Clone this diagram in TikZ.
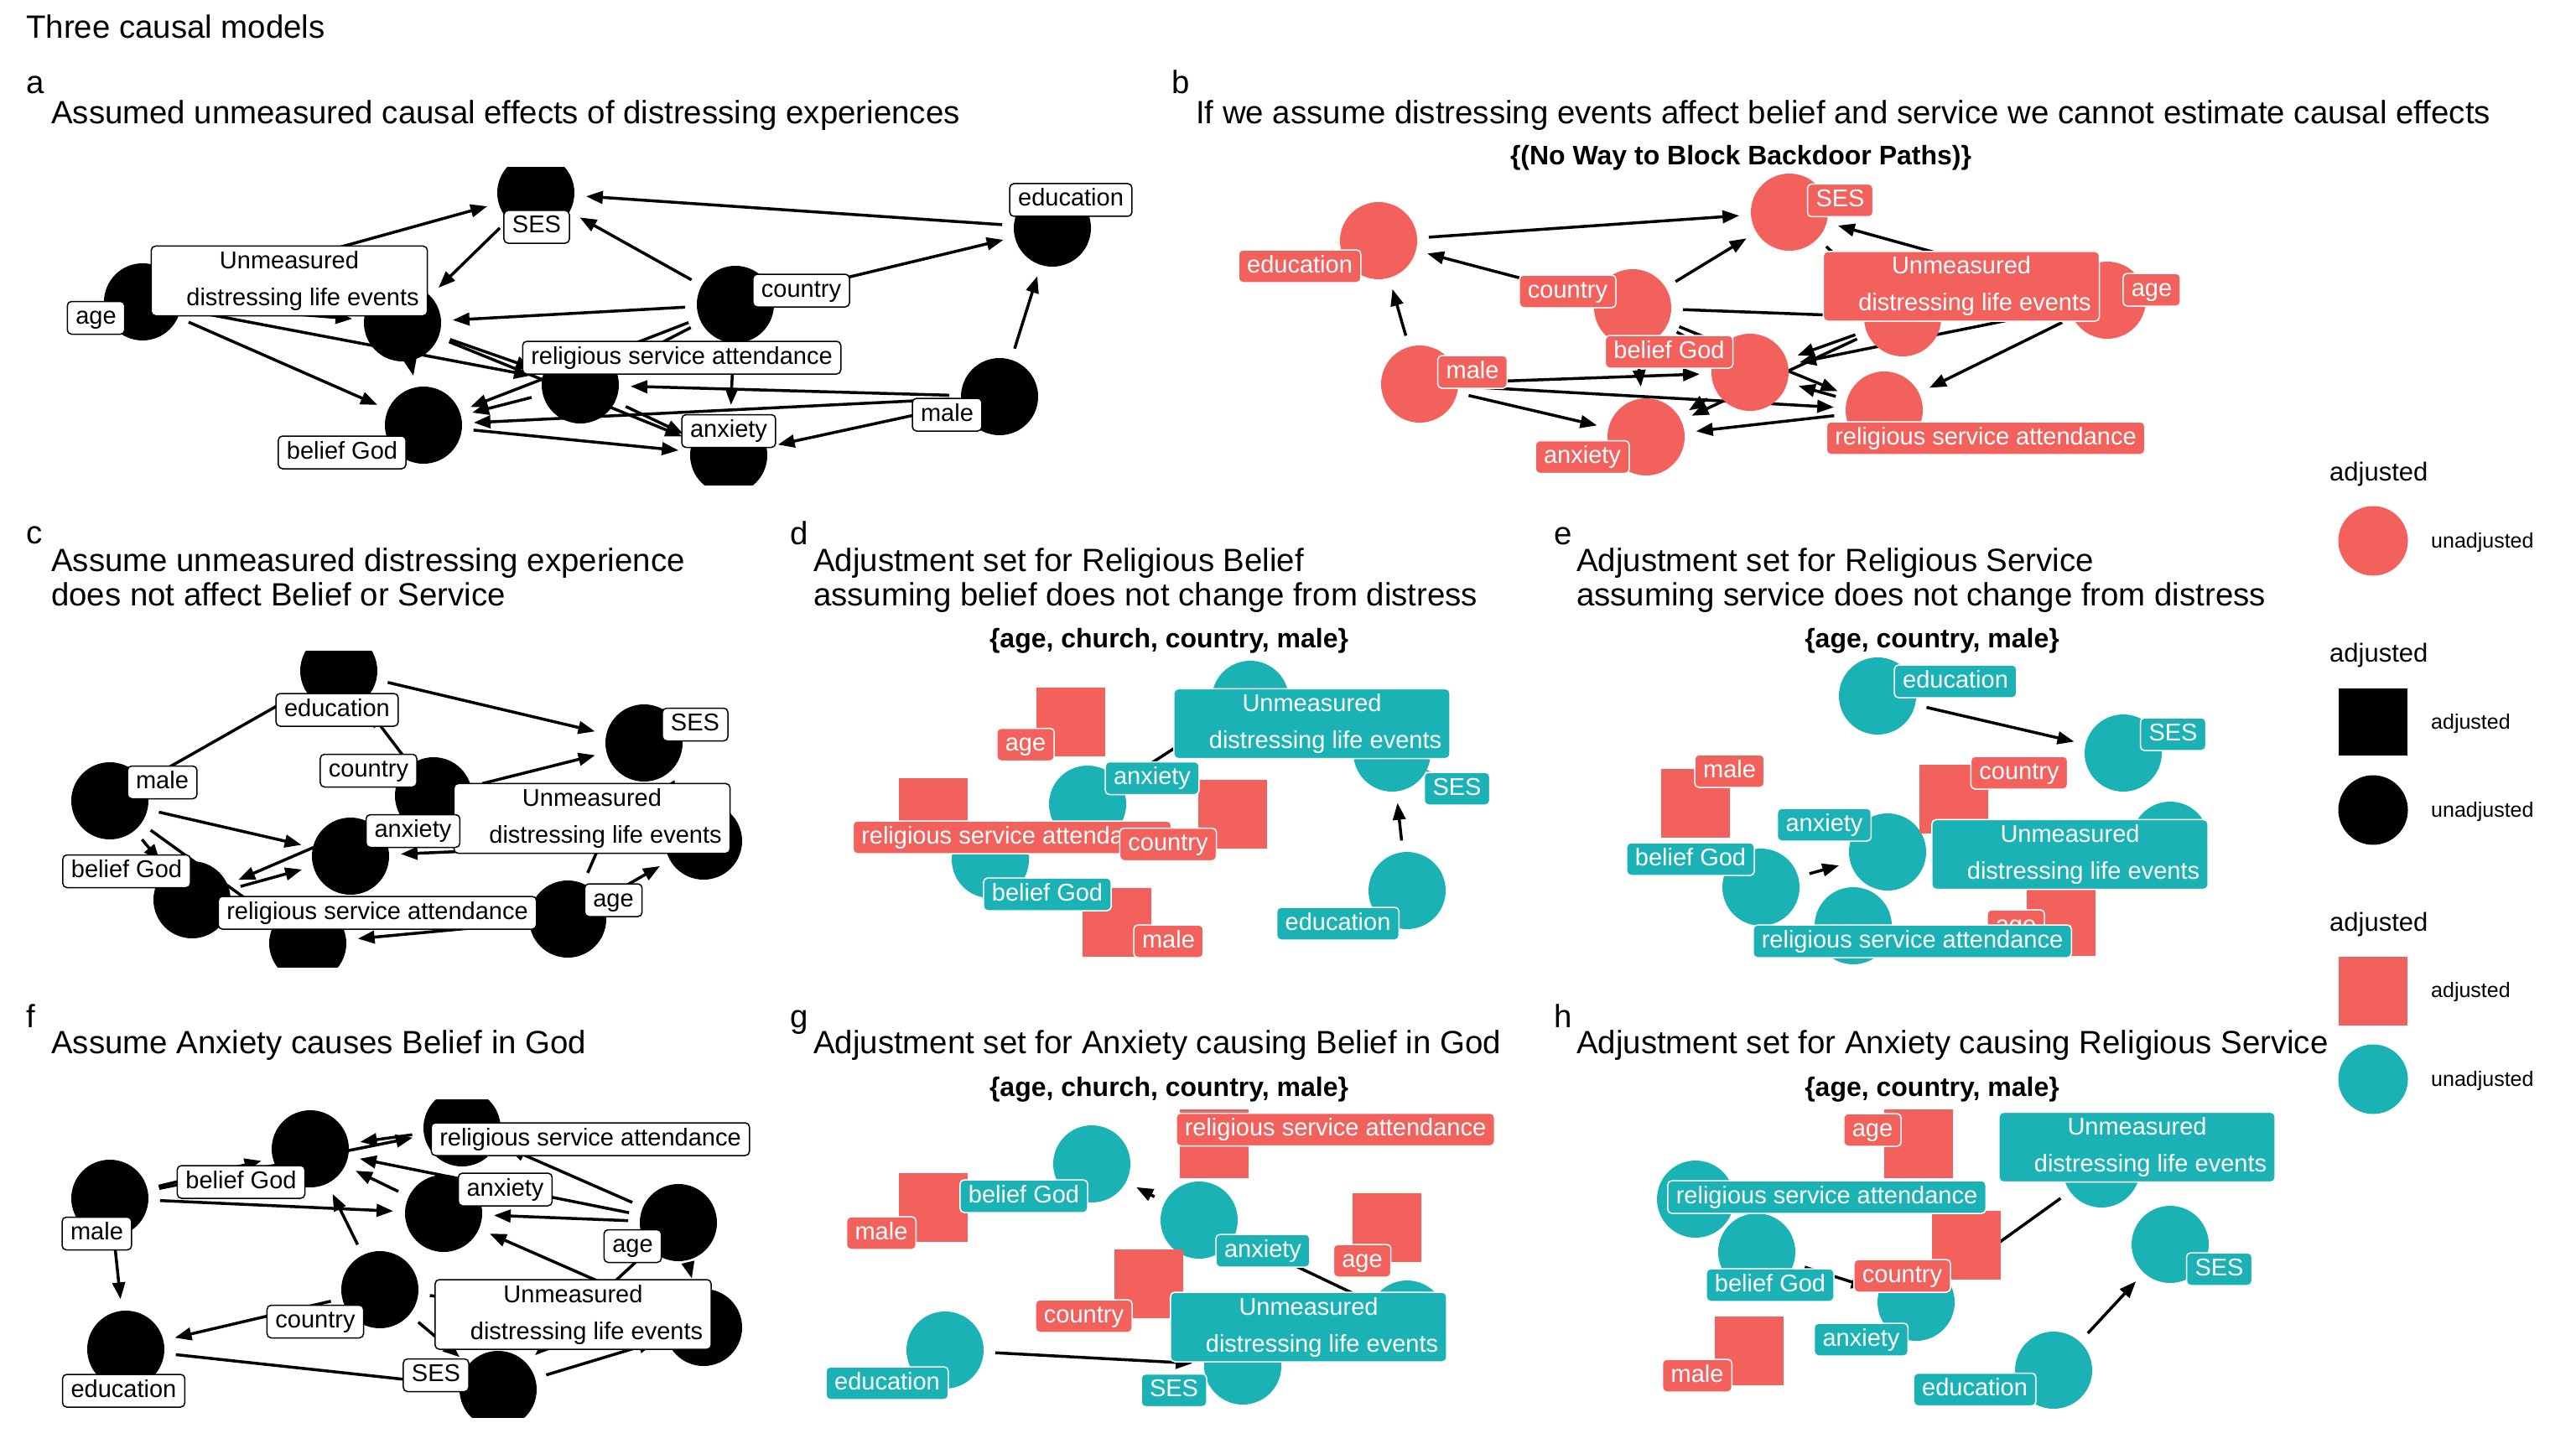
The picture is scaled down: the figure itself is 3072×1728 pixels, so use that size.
\documentclass[tikz,border=0pt]{standalone}
\usepackage{fontspec}
\setmainfont{Liberation Sans}
\usetikzlibrary{arrows.meta}
\definecolor{adjred}{RGB}{242,97,92}
\definecolor{unteal}{RGB}{27,178,181}
\tikzset{
  dagedge/.style={line width=3.5pt, -{Triangle[length=20pt,width=15pt]}, shorten <=60pt, shorten >=60pt},
  bnode/.style={circle, fill=black, minimum size=92pt, inner sep=0pt},
  rnode/.style={circle, fill=adjred, minimum size=92pt, inner sep=0pt},
  tnode/.style={circle, fill=unteal, minimum size=92pt, inner sep=0pt},
  rsq/.style={rectangle, fill=adjred, minimum size=82pt, inner sep=0pt},
  labbase/.style={rounded corners=5pt, inner xsep=10pt, inner ysep=6pt, line width=1.5pt, yshift=-3pt, font=\fontsize{29}{44}\selectfont},
  oneline/.style={text height=21pt, text depth=6pt},
  twoline/.style={align=center},
  wlab/.style={labbase, draw=black, fill=white},
  rlab/.style={labbase, draw=white, fill=adjred, text=white},
  tlab/.style={labbase, draw=white, fill=unteal, text=white},
  tagtext/.style={anchor=base west, inner sep=0pt, font=\fontsize{38.4}{42}\selectfont},
  subtext/.style={anchor=base, inner sep=0pt, font=\fontsize{32}{36}\selectfont\bfseries},
  legtitle/.style={anchor=base west, inner sep=0pt, font=\fontsize{31}{36}\selectfont},
  legtext/.style={anchor=west, inner sep=0pt, font=\fontsize{25}{30}\selectfont}
}
\newcommand{\unmtext}{Unmeasured\\\hspace*{32pt}distressing life events}

\begin{document}
\begin{tikzpicture}[x=1pt, y=-1pt]
\fill[white] (0,0) rectangle (3072,1728);
\useasboundingbox (0,0) rectangle (3072,1728);

\node[tagtext] (maintitle) at (31,46) {Three causal models};

% panel a
\node[tagtext] (atag) at (31,112) {a};
\node[tagtext] (atitle) at (61,148) {Assumed unmeasured causal effects of distressing experiences};
\begin{scope}
\clip (0,200) rectangle (1390,578);
\coordinate (aSES) at (639,230);
\coordinate (aedu) at (1255,272);
\coordinate (aage) at (170,360);
\coordinate (aunm) at (480,385);
\coordinate (acty) at (877,363);
\coordinate (arel) at (692,459);
\coordinate (abel) at (505,507);
\coordinate (aanx) at (869,543);
\coordinate (amale) at (1192,473);
\draw[dagedge] (aage) -- (aSES);
\draw[dagedge] (aedu) -- (aSES);
\draw[dagedge] (aSES) -- (aunm);
\draw[dagedge] (acty) -- (aSES);
\draw[dagedge] (acty) -- (aedu);
\draw[dagedge] (amale) -- (aedu);
\draw[dagedge] (acty) -- (aunm);
\draw[dagedge] (aage) -- (aunm);
\draw[dagedge] (aage) -- (abel);
\draw[dagedge] (aage) -- (arel);
\draw[dagedge] (aunm) -- (abel);
\draw[dagedge] (aunm) -- (arel);
\draw[dagedge] (aunm) -- (aanx);
\draw[dagedge] (acty) -- (abel);
\draw[dagedge] (acty) -- (arel);
\draw[dagedge] (acty) -- (aanx);
\draw[dagedge] (amale) -- (arel);
\draw[dagedge] (amale) -- (abel);
\draw[dagedge] (amale) -- (aanx);
\draw[dagedge] (abel) -- (aanx);
\draw[dagedge] (arel) -- (abel);
\draw[dagedge] (arel) -- (aanx);
\node[bnode] (aSESc) at (aSES) {};
\node[bnode] (aeduc) at (aedu) {};
\node[bnode] (aagec) at (aage) {};
\node[bnode] (aunmc) at (aunm) {};
\node[bnode] (actyc) at (acty) {};
\node[bnode] (arelc) at (arel) {};
\node[bnode] (abelc) at (abel) {};
\node[bnode] (aanxc) at (aanx) {};
\node[bnode] (amalec) at (amale) {};
\node[wlab, oneline] (aSESl) at (640,267.5) {SES};
\node[wlab, oneline] (aedul) at (1277,235.5) {education};
\node[wlab, oneline] (aagel) at (114.5,376) {age};
\node[wlab, twoline] (aunml) at (345,332) {\unmtext};
\node[wlab, oneline] (actyl) at (955.5,343.5) {country};
\node[wlab, oneline] (arell) at (813,423.5) {religious service attendance};
\node[wlab, oneline] (abell) at (408,536.5) {belief God};
\node[wlab, oneline] (aanxl) at (869,511) {anxiety};
\node[wlab, oneline] (amalel) at (1129.5,491.5) {male};
\end{scope}

% panel b
\node[tagtext] (btag) at (1397,112) {b};
\node[tagtext] (btitle) at (1426,148) {If we assume distressing events affect belief and service we cannot estimate causal effects};
\node[subtext] (bsub) at (2076,197) {\{(No Way to Block Backdoor Paths)\}};
\coordinate (bSES) at (2134,253);
\coordinate (bedu) at (1644,287);
\coordinate (bcty) at (1947,367);
\coordinate (bunm) at (2269,379);
\coordinate (bage) at (2513,358);
\coordinate (bbel) at (2087,444);
\coordinate (bmale) at (1693,458);
\coordinate (brel) at (2247,489);
\coordinate (banx) at (1963,521);
\draw[dagedge] (bedu) -- (bSES);
\draw[dagedge] (bcty) -- (bedu);
\draw[dagedge] (bmale) -- (bedu);
\draw[dagedge] (bcty) -- (bSES);
\draw[dagedge] (bage) -- (bSES);
\draw[dagedge] (bcty) -- (bunm);
\draw[dagedge] (bage) -- (bunm);
\draw[dagedge] (bSES) -- (bunm);
\draw[dagedge] (bcty) -- (bbel);
\draw[dagedge] (bcty) -- (brel);
\draw[dagedge] (bcty) -- (banx);
\draw[dagedge] (bmale) -- (bbel);
\draw[dagedge] (bmale) -- (brel);
\draw[dagedge] (bmale) -- (banx);
\draw[dagedge] (bunm) -- (bbel);
\draw[dagedge] (bunm) -- (banx);
\draw[dagedge] (bage) -- (bbel);
\draw[dagedge] (bage) -- (brel);
\draw[dagedge] (brel) -- (bbel);
\draw[dagedge] (bbel) -- (banx);
\draw[dagedge] (brel) -- (banx);
\node[rnode] (bSESc) at (bSES) {};
\node[rnode] (beduc) at (bedu) {};
\node[rnode] (bctyc) at (bcty) {};
\node[rnode] (bunmc) at (bunm) {};
\node[rnode] (bagec) at (bage) {};
\node[rnode] (bbelc) at (bbel) {};
\node[rnode] (bmalec) at (bmale) {};
\node[rnode] (brelc) at (brel) {};
\node[rnode] (banxc) at (banx) {};
\node[rlab, oneline] (bSESl) at (2194.5,236) {SES};
\node[rlab, oneline] (bedul) at (1550,314.5) {education};
\node[rlab, oneline] (bctyl) at (1869.5,344.5) {country};
\node[rlab, twoline] (bunml) at (2339,338.5) {\unmtext};
\node[rlab, oneline] (bagel) at (2566,342.5) {age};
\node[rlab, oneline] (bbell) at (1990.5,416.5) {belief God};
\node[rlab, oneline] (bmalel) at (1756,440.5) {male};
\node[rlab, oneline] (brell) at (2368,519.5) {religious service attendance};
\node[rlab, oneline] (banxl) at (1887,542) {anxiety};

% panel c
\node[tagtext] (ctag) at (31,648) {c};
\node[tagtext] (ctitle) at (61,681) {Assume unmeasured distressing experience};
\node[tagtext] (ctitleb) at (61,722) {does not affect Belief or Service};
\begin{scope}
\clip (0,776) rectangle (930,1153);
\coordinate (cedu) at (404,800);
\coordinate (cSES) at (768,886);
\coordinate (cmale) at (131,955);
\coordinate (ccty) at (517,949);
\coordinate (cunm) at (839,1003);
\coordinate (canx) at (418,1021);
\coordinate (cbel) at (229,1073);
\coordinate (cage) at (677,1096);
\coordinate (crel) at (367,1125);
\draw[dagedge] (cedu) -- (cSES);
\draw[dagedge] (cmale) -- (cedu);
\draw[dagedge] (ccty) -- (cedu);
\draw[dagedge] (ccty) -- (cSES);
\draw[dagedge] (cmale) -- (canx);
\draw[dagedge] (cmale) -- (cbel);
\draw[dagedge] (cmale) -- (crel);
\draw[dagedge] (ccty) -- (cbel);
\draw[dagedge] (cbel) -- (canx);
\draw[dagedge] (cunm) -- (canx);
\draw[dagedge] (cage) -- (cSES);
\draw[dagedge] (cage) -- (cunm);
\draw[dagedge] (cage) -- (crel);
\draw[dagedge] (cSES) -- (cunm);
\draw[dagedge] (ccty) -- (cunm);
\node[bnode] (ceduc) at (cedu) {};
\node[bnode] (cSESc) at (cSES) {};
\node[bnode] (cmalec) at (cmale) {};
\node[bnode] (cctyc) at (ccty) {};
\node[bnode] (cunmc) at (cunm) {};
\node[bnode] (canxc) at (canx) {};
\node[bnode] (cbelc) at (cbel) {};
\node[bnode] (cagec) at (cage) {};
\node[bnode] (crelc) at (crel) {};
\node[wlab, oneline] (cedul) at (402,843.5) {education};
\node[wlab, oneline] (cSESl) at (829,861) {SES};
\node[wlab, oneline] (cmalel) at (193.5,930) {male};
\node[wlab, oneline] (cctyl) at (439.5,916) {country};
\node[wlab, twoline] (cunml) at (706,973) {\unmtext};
\node[wlab, oneline] (canxl) at (492.5,988) {anxiety};
\node[wlab, oneline] (cbell) at (151,1036) {belief God};
\node[wlab, oneline] (cagel) at (731.5,1070.5) {age};
\node[wlab, oneline] (crell) at (450,1085.5) {religious service attendance};
\end{scope}

% panel d
\node[tagtext] (dtag) at (942,649) {d};
\node[tagtext] (dtitle) at (970,681) {Adjustment set for Religious Belief};
\node[tagtext] (dtitleb) at (970,722) {assuming belief does not change from distress};
\node[subtext] (dsub) at (1394,772) {\{age, church, country, male\}};
\coordinate (dunm) at (1491,834);
\coordinate (dSES) at (1660,898);
\coordinate (danx) at (1297,959);
\coordinate (dbel) at (1181,1025);
\coordinate (dedu) at (1678,1062);
\coordinate (dage) at (1276.5,861);
\coordinate (drel) at (1112.5,969);
\coordinate (dcty) at (1469.5,971);
\coordinate (dmale) at (1331.5,1100);
\draw[dagedge] (dunm) -- (danx);
\draw[dagedge] (dedu) -- (dSES);
\node[tnode] (dunmc) at (dunm) {};
\node[tnode] (dSESc) at (dSES) {};
\node[tnode] (danxc) at (danx) {};
\node[tnode] (dbelc) at (dbel) {};
\node[tnode] (deduc) at (dedu) {};
\node[rsq] (dagec) at (dage) {};
\node[rsq] (drelc) at (drel) {};
\node[rsq] (dctyc) at (dcty) {};
\node[rsq] (dmalec) at (dmale) {};
\coordinate (dSESlab) at (1737.5,937.5);
\draw[gray, line width=2pt, shorten >=30pt] (dSESc) -- (dSESlab);
\node[tlab, twoline] (dunml) at (1564.5,860) {\unmtext};
\node[rlab, oneline] (dagel) at (1223,885) {age};
\node[tlab, oneline] (dSESl) at (dSESlab) {SES};
\node[tlab, oneline] (danxl) at (1374,925) {anxiety};
\node[rlab, oneline] (drell) at (1207,995.5) {religious service attendance};
\node[rlab, oneline] (dctyl) at (1393,1004) {country};
\node[tlab, oneline] (dbell) at (1249,1063.5) {belief God};
\node[rlab, oneline] (dmalel) at (1393.5,1119.5) {male};
\node[tlab, oneline] (dedul) at (1595.5,1098.5) {education};

% panel e
\node[tagtext] (etag) at (1853,649) {e};
\node[tagtext] (etitle) at (1880,681) {Adjustment set for Religious Service};
\node[tagtext] (etitleb) at (1880,722) {assuming service does not change from distress};
\node[subtext] (esub) at (2304,772) {\{age, country, male\}};
\coordinate (eedu) at (2239,830);
\coordinate (eSES) at (2532,898);
\coordinate (eanx) at (2251,1016);
\coordinate (ebel) at (2100,1058);
\coordinate (eunm) at (2588,1002);
\coordinate (erel) at (2210,1104);
\coordinate (emale) at (2021.5,958);
\coordinate (ecty) at (2330,952.5);
\coordinate (eage) at (2458,1099);
\draw[dagedge] (eedu) -- (eSES);
\draw[dagedge] (ebel) -- (eanx);
\node[tnode] (eeduc) at (eedu) {};
\node[tnode] (eSESc) at (eSES) {};
\node[tnode] (eanxc) at (eanx) {};
\node[tnode] (ebelc) at (ebel) {};
\node[tnode] (eunmc) at (eunm) {};
\node[tnode] (erelc) at (erel) {};
\node[rsq] (emalec) at (emale) {};
\node[rsq] (ectyc) at (ecty) {};
\node[rsq] (eagec) at (eage) {};
\node[tlab, oneline] (eedul) at (2332,809.5) {education};
\node[tlab, oneline] (eSESl) at (2591.5,872.5) {SES};
\node[rlab, oneline] (emalel) at (2062.5,916.5) {male};
\node[rlab, oneline] (ectyl) at (2408,918.5) {country};
\node[tlab, oneline] (eanxl) at (2175.5,980.5) {anxiety};
\node[tlab, oneline] (ebell) at (2016,1021.5) {belief God};
\node[tlab, twoline] (eunml) at (2468.5,1016) {\unmtext};
\node[rlab, oneline] (eagel) at (2404,1101.5) {age};
\node[tlab, oneline] (erell) at (2280.5,1119.5) {religious service attendance};

% panel f
\node[tagtext] (ftag) at (31,1225) {f};
\node[tagtext] (ftitle) at (61,1256) {Assume Anxiety causes Belief in God};
\begin{scope}
\clip (0,1311) rectangle (930,1690);
\coordinate (fbel) at (370,1370);
\coordinate (frel) at (551,1345);
\coordinate (fmale) at (131,1429);
\coordinate (fanx) at (529,1447);
\coordinate (fage) at (809,1458);
\coordinate (fcty) at (453,1538);
\coordinate (funm) at (839,1583);
\coordinate (fedu) at (150,1609);
\coordinate (fSES) at (594,1657);
\draw[dagedge] (fmale) -- (fbel);
\draw[dagedge] (fmale) -- (frel);
\draw[dagedge] (frel) -- (fbel);
\draw[dagedge] (fmale) -- (fanx);
\draw[dagedge] (fmale) -- (fedu);
\draw[dagedge] (fanx) -- (fbel);
\draw[dagedge] (fage) -- (fbel);
\draw[dagedge] (fage) -- (fanx);
\draw[dagedge] (fage) -- (frel);
\draw[dagedge] (fcty) -- (fbel);
\draw[dagedge] (fcty) -- (fedu);
\draw[dagedge] (fedu) -- (fSES);
\draw[dagedge] (funm) -- (fanx);
\draw[dagedge] (fage) -- (funm);
\draw[dagedge] (fage) -- (fSES);
\draw[dagedge] (fSES) -- (funm);
\draw[dagedge] (fcty) -- (fSES);
\draw[dagedge] (fcty) -- (funm);
\node[bnode] (fbelc) at (fbel) {};
\node[bnode] (frelc) at (frel) {};
\node[bnode] (fmalec) at (fmale) {};
\node[bnode] (fanxc) at (fanx) {};
\node[bnode] (fagec) at (fage) {};
\node[bnode] (fctyc) at (fcty) {};
\node[bnode] (funmc) at (funm) {};
\node[bnode] (feduc) at (fedu) {};
\node[bnode] (fSESc) at (fSES) {};
\node[wlab, oneline] (fbell) at (287.5,1406.5) {belief God};
\node[wlab, oneline] (frell) at (704,1355.5) {religious service attendance};
\node[wlab, oneline] (fmalel) at (115.5,1468) {male};
\node[wlab, oneline] (fanxl) at (602.5,1415.5) {anxiety};
\node[wlab, oneline] (fagel) at (754.5,1483) {age};
\node[wlab, oneline] (fctyl) at (376,1573) {country};
\node[wlab, twoline] (funml) at (683.5,1564.5) {\unmtext};
\node[wlab, oneline] (fedul) at (147.5,1655.5) {education};
\node[wlab, oneline] (fSESl) at (520,1637) {SES};
\end{scope}

% panel g
\node[tagtext] (gtag) at (942,1225) {g};
\node[tagtext] (gtitle) at (970,1256) {Adjustment set for Anxiety causing Belief in God};
\node[subtext] (gsub) at (1394,1307) {\{age, church, country, male\}};
\coordinate (gbel) at (1302,1388);
\coordinate (ganx) at (1430,1455);
\coordinate (gunm) at (1678,1573);
\coordinate (gedu) at (1127,1610);
\coordinate (gSES) at (1482,1629);
\coordinate (grel) at (1448,1364);
\coordinate (gmale) at (1112.5,1440);
\coordinate (gage) at (1653.5,1464);
\coordinate (gcty) at (1369.5,1531);
\draw[dagedge] (ganx) -- (gbel);
\draw[dagedge] (gunm) -- (ganx);
\draw[dagedge] (gedu) -- (gSES);
\node[tnode] (gbelc) at (gbel) {};
\node[tnode] (ganxc) at (ganx) {};
\node[tnode] (gunmc) at (gunm) {};
\node[tnode] (geduc) at (gedu) {};
\node[tnode] (gSESc) at (gSES) {};
\node[rsq] (grelc) at (grel) {};
\node[rsq] (gmalec) at (gmale) {};
\node[rsq] (gagec) at (gage) {};
\node[rsq] (gctyc) at (gcty) {};
\node[rlab, oneline] (grell) at (1592.5,1344) {religious service attendance};
\node[tlab, oneline] (gbell) at (1221,1423.5) {belief God};
\node[rlab, oneline] (gmalel) at (1051,1467.5) {male};
\node[tlab, oneline] (ganxl) at (1506,1488.5) {anxiety};
\node[rlab, oneline] (gagel) at (1624.5,1500.5) {age};
\node[rlab, oneline] (gctyl) at (1292.5,1566.5) {country};
\node[tlab, twoline] (gunml) at (1560.5,1579.5) {\unmtext};
\node[tlab, oneline] (gedul) at (1058,1646.5) {education};
\node[tlab, oneline] (gSESl) at (1400,1655) {SES};

% panel h
\node[tagtext] (htag) at (1853,1225) {h};
\node[tagtext] (htitle) at (1880,1256) {Adjustment set for Anxiety causing Religious Service};
\node[subtext] (hsub) at (2304,1307) {\{age, country, male\}};
\coordinate (hunm) at (2506,1394);
\coordinate (hrel) at (2022,1430);
\coordinate (hbel) at (2095,1493);
\coordinate (hSES) at (2588,1484);
\coordinate (hanx) at (2285,1553);
\coordinate (hedu) at (2449,1634);
\coordinate (hage) at (2287.5,1363.5);
\coordinate (hcty) at (2345,1485);
\coordinate (hmale) at (2086,1610.5);
\draw[dagedge] (hunm) -- (hanx);
\draw[dagedge] (hbel) -- (hanx);
\draw[dagedge] (hedu) -- (hSES);
\node[tnode] (hunmc) at (hunm) {};
\node[tnode] (hrelc) at (hrel) {};
\node[tnode] (hbelc) at (hbel) {};
\node[tnode] (hSESc) at (hSES) {};
\node[tnode] (hanxc) at (hanx) {};
\node[tnode] (heduc) at (hedu) {};
\node[rsq] (hagec) at (hage) {};
\node[rsq] (hctyc) at (hcty) {};
\node[rsq] (hmalec) at (hmale) {};
\node[rlab, oneline] (hagel) at (2233,1344.5) {age};
\node[tlab, twoline] (hunml) at (2548.5,1365) {\unmtext};
\node[tlab, oneline] (hrell) at (2178.5,1424.5) {religious service attendance};
\node[tlab, oneline] (hbell) at (2111,1529.5) {belief God};
\node[rlab, oneline] (hctyl) at (2268.5,1518.5) {country};
\node[tlab, oneline] (hSESl) at (2646.5,1510.5) {SES};
\node[tlab, oneline] (hanxl) at (2219.5,1594.5) {anxiety};
\node[rlab, oneline] (hmalel) at (2024,1637.5) {male};
\node[tlab, oneline] (hedul) at (2355,1654) {education};

% legend
\node[legtitle] (lt1) at (2778,573) {adjusted};
\node[rnode, minimum size=83pt] (lk1) at (2830,645) {};
\node[legtext] (ll1) at (2899,647) {unadjusted};
\node[legtitle] (lt2) at (2778,789) {adjusted};
\node[rectangle, fill=black, minimum width=82pt, minimum height=80pt, inner sep=0pt] (lk2) at (2830,861) {};
\node[legtext] (ll2) at (2899,863) {adjusted};
\node[bnode, minimum size=83pt] (lk3) at (2830,966) {};
\node[legtext] (ll3) at (2899,968) {unadjusted};
\node[legtitle] (lt3) at (2778,1110) {adjusted};
\node[rsq] (lk4) at (2830,1181.5) {};
\node[legtext] (ll4) at (2899,1183) {adjusted};
\node[tnode, minimum size=83pt] (lk5) at (2830,1287) {};
\node[legtext] (ll5) at (2899,1289) {unadjusted};
\end{tikzpicture}
\end{document}
